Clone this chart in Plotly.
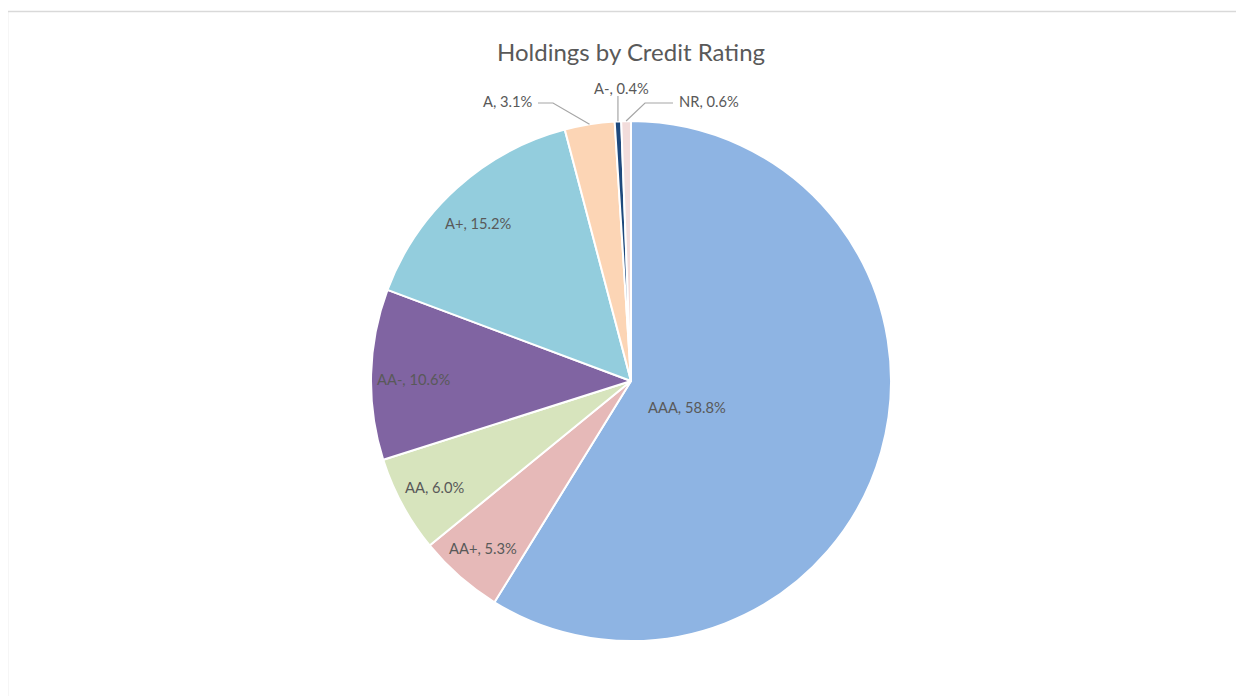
import math
import plotly.graph_objects as go

# ---- data ----
labels = ["AAA", "AA+", "AA", "AA-", "A+", "A", "A-", "NR"]
values = [58.8, 5.3, 6.0, 10.6, 15.2, 3.1, 0.4, 0.6]
colors = ["#8EB4E3", "#E6B9B8", "#D7E4BD", "#8064A2", "#93CDDD", "#FCD5B5", "#1F497D", "#F2DCDB"]
title_text = "Holdings by Credit Rating"

# ---- layout / style ----
W, H = 1244, 696
OFF = 8  # page body margin offset
cx, cy, R = 631, 381, 260
FONT = "Lato, 'Liberation Sans', Arial, sans-serif"
TXT = "#595959"
LINE = "#A6A6A6"
LBL = 14.7

# inside label radial fraction and pixel nudge (style)
inside_r = {"AAA": 0.235, "AA+": 0.865, "AA": 0.86, "AA-": 0.835, "A+": 0.84}
nudge = {"AAA": (-3, 9), "AA+": (0, -2), "AA": (0, 0), "AA-": (0, 3), "A+": (-6, 4)}
# outside label placement (style): label x, label y, xanchor, elbow x (None = straight), line end x
outside = {
    "A": (535, 101, "right", 553, 538),
    "A-": (621, 88, "center", None, None),
    "NR": (677, 101, "left", 645, 673),
}

def px(x):
    return (x - OFF) / W

def py(y):
    return 1 - (y - OFF) / H

fig = go.Figure(go.Pie(
    labels=labels, values=values, sort=False, direction="clockwise", rotation=0,
    marker=dict(colors=colors, line=dict(color="white", width=2)),
    textinfo="none", hoverinfo="label+percent", showlegend=False,
    domain=dict(x=[px(cx - R), px(cx + R)], y=[py(cy + R), py(cy - R)]),
))

total = sum(values)
cum = 0.0
annotations = []
shapes = []
for lab, v in zip(labels, values):
    mid = (cum + v / 2) / total * 2 * math.pi
    cum += v
    dx, dy = math.sin(mid), -math.cos(mid)
    text = f"{lab}, {v / total * 100:.1f}%"
    if lab in inside_r:
        f = inside_r[lab]
        nx, ny = nudge[lab]
        annotations.append(dict(x=px(cx + dx * R * f + nx), y=py(cy + dy * R * f + ny), xref="paper", yref="paper",
                                text=text, showarrow=False, xanchor="center", yanchor="middle",
                                font=dict(family=FONT, size=LBL, color=TXT)))
    else:
        lx, ly, anc, elbow, endx = outside[lab]
        ex, ey = cx + dx * R, cy + dy * R
        annotations.append(dict(x=px(lx), y=py(ly), xref="paper", yref="paper",
                                text=text, showarrow=False, xanchor=anc, yanchor="middle",
                                font=dict(family=FONT, size=LBL, color=TXT)))
        if elbow is None:
            path = f"M {px(ex)} {py(ey)} L {px(ex)} {py(ly + 8)}"
        else:
            path = f"M {px(ex)} {py(ey)} L {px(elbow)} {py(ly + 2)} L {px(endx)} {py(ly + 2)}"
        shapes.append(dict(type="path", path=path, xref="paper", yref="paper",
                           line=dict(color=LINE, width=1.2)))

annotations.append(dict(x=px(631), y=py(52), xref="paper", yref="paper", text=title_text,
                        showarrow=False, xanchor="center", yanchor="middle",
                        font=dict(family=FONT, size=24, color=TXT)))

# chart area border (extends off-image right and bottom)
shapes.append(dict(type="rect", xref="paper", yref="paper", x0=px(7.5), x1=1.02, y0=-0.02, y1=py(11.5),
                    line=dict(color="#D9D9D9", width=1.5), fillcolor="rgba(0,0,0,0)", layer="below"))

fig.update_layout(
    width=W, height=H, margin=dict(l=0, r=0, t=0, b=0),
    paper_bgcolor="white", plot_bgcolor="white",
    annotations=annotations, shapes=shapes,
)
fig.write_html("out.html")
